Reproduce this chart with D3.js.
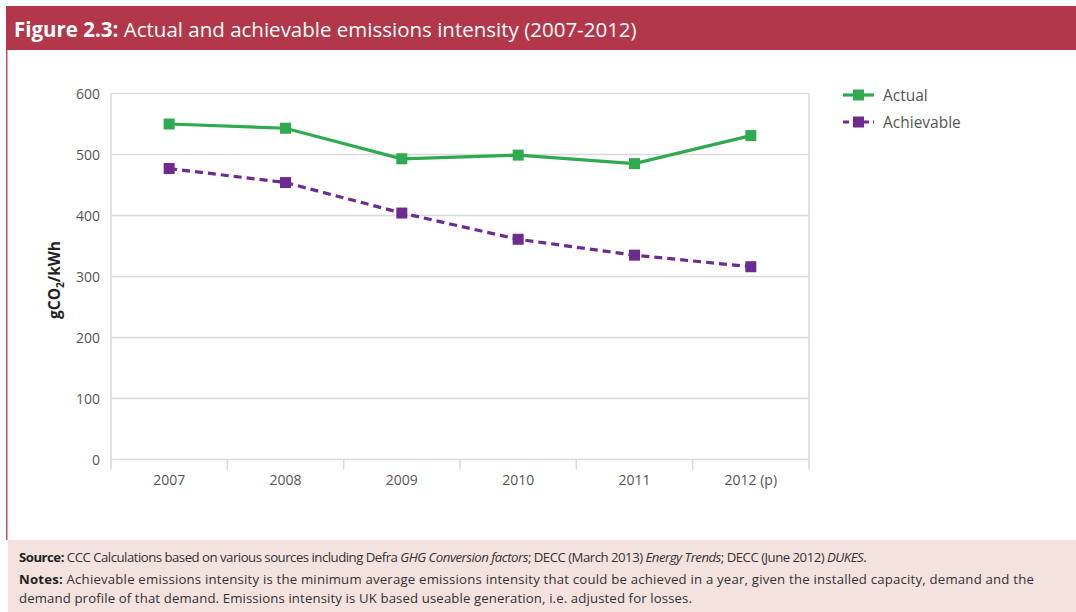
<!DOCTYPE html>
<html><head><meta charset="utf-8">
<script src="https://cdn.jsdelivr.net/npm/d3@7"></script>
<style>body{margin:0;background:#fff}svg{display:block}</style>
</head><body>
<script>
const categories = ["2007","2008","2009","2010","2011","2012 (p)"];
const actual = [550, 543, 493, 499, 485, 531];
const achievable = [477, 454, 404, 361, 335, 316];
const yTicks = [0,100,200,300,400,500,600];
const seriesNames = ["Actual","Achievable"];

const W = 1076, H = 612;
const svg = d3.select("body").append("svg").attr("width", W).attr("height", H);
const font = "'Open Sans', 'Noto Sans', sans-serif";

// header
svg.append("rect").attr("x",6).attr("y",6).attr("width",W-6).attr("height",44).attr("fill","#b3374a");
const title = svg.append("text").attr("x",14).attr("y",37).attr("fill","#fff")
  .attr("font-family",font).attr("font-size",20.5);
title.append("tspan").attr("font-weight","bold").text("Figure 2.3:");
title.append("tspan").text(" Actual and achievable emissions intensity (2007-2012)");

// left border
svg.append("rect").attr("x",6).attr("y",50).attr("width",1.5).attr("height",490).attr("fill","#c0505f");

// footer
svg.append("rect").attr("x",8).attr("y",540).attr("width",W-8).attr("height",72).attr("fill","#f4e2df");
const ft = [
  {y:562, ls:-0.5, parts:[["Source:","bold",""],[" CCC Calculations based on various sources including Defra ","normal",""],["GHG Conversion factors","normal","italic"],["; DECC (March 2013) ","normal",""],["Energy Trends","normal","italic"],["; DECC (June 2012) ","normal",""],["DUKES","normal","italic"],[".","normal",""]]},
  {y:584, ls:0.2, parts:[["Notes:","bold",""],[" Achievable emissions intensity is the minimum average emissions intensity that could be achieved in a year, given the installed capacity, demand and the","normal",""]]},
  {y:603, ls:0.12, parts:[["demand profile of that demand. Emissions intensity is UK based useable generation, i.e. adjusted for losses.","normal",""]]}
];
ft.forEach(l=>{
  const t = svg.append("text").attr("x",19).attr("y",l.y).attr("font-family",font).attr("font-size",13.2)
    .attr("letter-spacing",l.ls).attr("fill","#333");
  l.parts.forEach(p=>{
    const s=t.append("tspan").attr("font-weight",p[1]).text(p[0]);
    if(p[2]) s.attr("font-style",p[2]);
    if(p[1]==="bold") s.attr("fill","#222");
  });
});

// plot
const x0=111, x1=809, yTop=93.5, yBot=459.5;
const x = d3.scaleBand().domain(categories).range([x0,x1]);
const y = d3.scaleLinear().domain([0,600]).range([yBot,yTop]);

const g = svg.append("g");
g.selectAll("line.grid").data(yTicks).join("line")
  .attr("x1",x0).attr("x2",x1).attr("y1",d=>y(d)).attr("y2",d=>y(d))
  .attr("stroke","#d9d9d9").attr("stroke-width",1.5);
g.append("line").attr("x1",x1).attr("x2",x1).attr("y1",yTop).attr("y2",yBot).attr("stroke","#d9d9d9").attr("stroke-width",1.5);
g.append("line").attr("x1",x0).attr("x2",x0).attr("y1",yTop).attr("y2",yBot+10).attr("stroke","#d9d9d9").attr("stroke-width",1.5);

// x axis ticks at band edges
const edges = categories.map(c=>x(c)).concat([x1]);
g.selectAll("line.xt").data(edges.slice(1)).join("line")
  .attr("x1",d=>d).attr("x2",d=>d).attr("y1",yBot).attr("y2",yBot+10)
  .attr("stroke","#d9d9d9").attr("stroke-width",1.5);

g.selectAll("text.xl").data(categories).join("text")
  .attr("x",d=>x(d)+x.bandwidth()/2).attr("y",485).attr("text-anchor","middle")
  .attr("font-family",font).attr("font-size",14).attr("fill","#555").text(d=>d);
g.selectAll("text.yl").data(yTicks).join("text")
  .attr("x",100).attr("y",d=>y(d)+5).attr("text-anchor","end")
  .attr("font-family",font).attr("font-size",14).attr("fill","#555").text(d=>d);

// y title
const yt = svg.append("text").attr("transform","translate(60,280) rotate(-90)").attr("text-anchor","middle")
  .attr("font-family",font).attr("font-size",15.5).attr("font-weight","bold").attr("fill","#222");
yt.append("tspan").text("gCO");
yt.append("tspan").attr("font-size",10).attr("dy",4).text("2");
yt.append("tspan").attr("dy",-4).text("/kWh");

const cx = d=>x(d)+x.bandwidth()/2;
const series = [
  {name:seriesNames[0], vals:actual, color:"#2eab4e", dash:null},
  {name:seriesNames[1], vals:achievable, color:"#6d2b90", dash:"8,5"}
];
series.forEach(s=>{
  const line = d3.line().x((d,i)=>cx(categories[i])).y(d=>y(d));
  g.append("path").datum(s.vals).attr("d",line).attr("fill","none")
    .attr("stroke",s.color).attr("stroke-width",3.2).attr("stroke-dasharray",s.dash);
  g.selectAll(null).data(s.vals).join("rect")
    .attr("x",(d,i)=>cx(categories[i])-5.5).attr("y",d=>y(d)-5.5)
    .attr("width",11).attr("height",11).attr("fill",s.color);
});

// legend
series.forEach((s,i)=>{
  const ly = 95 + i*27;
  svg.append("line").attr("x1",843).attr("x2",874).attr("y1",ly).attr("y2",ly)
    .attr("stroke",s.color).attr("stroke-width",3.2).attr("stroke-dasharray", s.dash ? "6,4" : null);
  svg.append("rect").attr("x",853).attr("y",ly-5.5).attr("width",11).attr("height",11).attr("fill",s.color);
  svg.append("text").attr("x",883).attr("y",ly+6).attr("font-family",font).attr("font-size",15.5)
    .attr("fill","#555").text(s.name);
});
</script>
</body></html>
